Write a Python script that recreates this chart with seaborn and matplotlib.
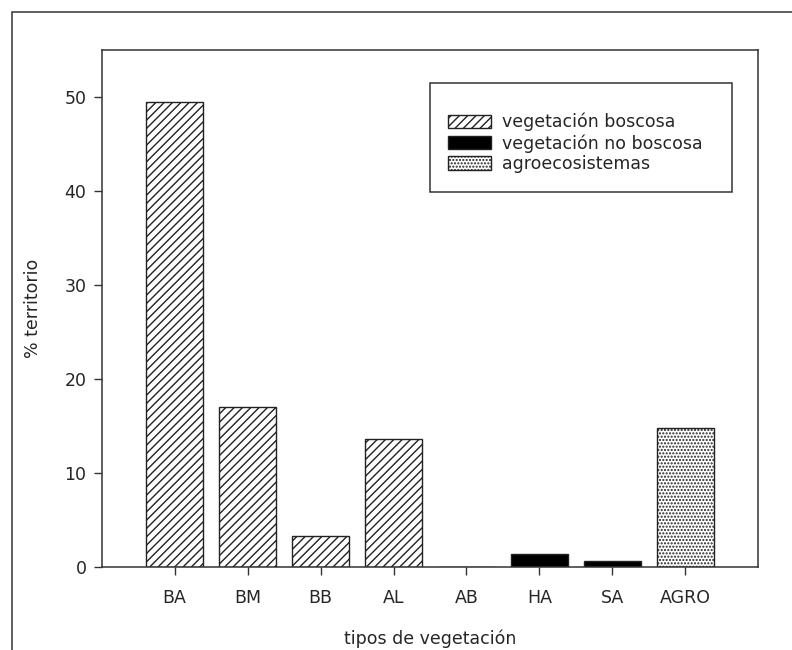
import matplotlib
matplotlib.use("Agg")
import matplotlib.pyplot as plt
from matplotlib.patches import Patch, Rectangle
import seaborn as sns

# data
tipos = ["BA", "BM", "BB", "AL", "AB", "HA", "SA", "AGRO"]
porcentaje = [49.5, 17.0, 3.3, 13.6, 0.0, 1.4, 0.6, 14.8]
grupo = ["boscosa", "boscosa", "boscosa", "boscosa", "boscosa",
         "no boscosa", "no boscosa", "agro"]
grupos = ["boscosa", "no boscosa", "agro"]
etiquetas = ["vegetación boscosa", "vegetación no boscosa", "agroecosistemas"]
estilo = {"boscosa": ("white", "////"),
          "no boscosa": ("black", ""),
          "agro": ("white", ".....")}

sns.set_style("white")
plt.rcParams["font.family"] = ["DejaVu Sans"]
plt.rcParams["hatch.linewidth"] = 1.0

fs = 12.5
fig = plt.figure(figsize=(7.92, 6.5), dpi=100)
ax = fig.add_axes([0.1284, 0.1282, 0.829, 0.795])

sns.barplot(x=tipos, y=porcentaje, color="white", edgecolor="#222222",
            linewidth=1.0, width=0.78, ax=ax)
for p, g in zip(ax.patches, grupo):
    fc, h = estilo[g]
    p.set_facecolor(fc)
    p.set_hatch(h)

ax.set_xlim(-1, 8)
ax.set_ylim(0, 55)
ax.set_yticks([0, 10, 20, 30, 40, 50])
for s in ax.spines.values():
    s.set_color("#333333")
    s.set_linewidth(1.1)
ax.tick_params(axis="both", direction="out", length=6, width=1,
               color="#333333", labelsize=fs, pad=5, left=True, bottom=True)
ax.tick_params(axis="x", pad=10)
ax.set_xlabel("tipos de vegetación", fontsize=fs, labelpad=16)
ax.set_ylabel("% territorio", fontsize=fs, labelpad=16)

handles = [Patch(facecolor=estilo[g][0], hatch=estilo[g][1], edgecolor="#222222",
                 linewidth=1.0) for g in grupos]
leg = ax.legend(handles, etiquetas, loc="upper left", bbox_to_anchor=(0.527, 0.878),
                fontsize=fs, frameon=False,
                handlelength=2.5, handleheight=0.8, handletextpad=0.6,
                labelspacing=0.15, borderpad=0, borderaxespad=0)
# legend box drawn separately (more room on top than below)
ax.add_patch(Rectangle((0.5, 0.725), 0.46, 0.211, transform=ax.transAxes, fill=False,
                       edgecolor="#333333", linewidth=1.1, zorder=5))

# outer frame of the figure (only left and top edges visible)
fig.patches.append(Rectangle((0.0148, -0.5), 1.5, 0.5 + 0.9815, transform=fig.transFigure,
                             fill=False, edgecolor="#333333", linewidth=1.1))

fig.savefig("out.png", dpi=100)
